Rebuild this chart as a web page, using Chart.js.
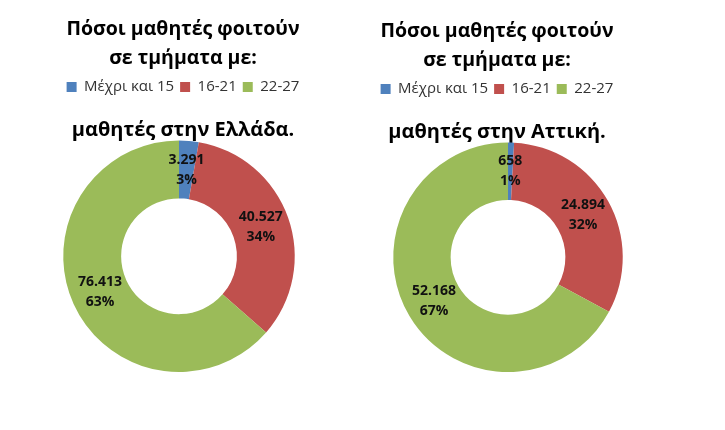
<!DOCTYPE html>
<html><head><meta charset="utf-8">
<script src="https://cdn.jsdelivr.net/npm/chart.js@4/dist/chart.umd.min.js"></script>
<style>
html,body{margin:0;padding:0;background:#fff;}
body{width:725px;height:430px;position:relative;overflow:hidden;}
.box{position:absolute;top:0;height:430px;}
</style></head><body>
<div class="box" style="left:18px;width:330px"><canvas id="c1"></canvas></div>
<div class="box" style="left:348px;width:298px"><canvas id="c2"></canvas></div>
<script>
const categories = ['Μέχρι και 15', '16-21', '22-27'];
const titleLines = ['Πόσοι μαθητές φοιτούν', 'σε τμήματα με:'];
const greeceSubtitle = 'μαθητές στην Ελλάδα.';
const atticaSubtitle = 'μαθητές στην Αττική.';
const greeceValues = [3291, 40527, 76413];
const greecePercents = [3, 34, 63];
const atticaValues = [658, 24894, 52168];
const atticaPercents = [1, 32, 67];
const colors = ['#4F81BD', '#C0504D', '#9BBB59'];

const FONT = '"Open Sans", "Noto Sans", sans-serif';

function fmt(n) {
  return String(n).replace(/\B(?=(\d{3})+(?!\d))/g, '.');
}

const labelPlugin = {
  id: 'sliceLabels',
  afterDatasetsDraw(chart, args, opts) {
    const ctx = chart.ctx;
    const meta = chart.getDatasetMeta(0);
    const ds = chart.data.datasets[0];
    ctx.save();
    ctx.font = 'bold 14px ' + FONT;
    ctx.fillStyle = '#111';
    ctx.textAlign = 'center';
    ctx.textBaseline = 'middle';
    meta.data.forEach((arc, i) => {
      const p = arc.tooltipPosition();
      ctx.fillText(fmt(ds.data[i]), p.x, p.y - 10);
      ctx.fillText(opts.percents[i] + '%', p.x, p.y + 10);
    });
    ctx.restore();
  }
};

const shiftPlugin = {
  id: 'shiftArea',
  afterLayout(chart, args, opts) {
    const s = opts.dx || 0;
    chart.chartArea.left += s;
    chart.chartArea.right += s;
  }
};

function makeChart(id, values, percents, subtitle, dx, dy) {
  new Chart(document.getElementById(id), {
    type: 'doughnut',
    data: {
      labels: categories,
      datasets: [{ data: values, backgroundColor: colors, borderWidth: 0 }]
    },
    options: {
      responsive: true,
      maintainAspectRatio: false,
      animation: false,
      cutout: '50%',
      layout: { padding: { top: dy, bottom: 58 } },
      plugins: {
        title: {
          display: true, text: titleLines, color: '#000',
          font: { family: FONT, size: 19.5, weight: 'bold', lineHeight: 1.5 },
          padding: { top: 15, bottom: 0 }
        },
        legend: {
          position: 'top',
          labels: {
            boxWidth: 10, boxHeight: 10, padding: 6, color: '#333',
            font: { family: FONT, size: 15 }
          }
        },
        subtitle: {
          display: true, text: subtitle, color: '#000', weight: 500,
          font: { family: FONT, size: 20, weight: 'bold', lineHeight: 1.0 },
          padding: { top: 16, bottom: 0 }
        },
        tooltip: { enabled: false },
        sliceLabels: { percents: percents },
        shiftArea: { dx: dx }
      }
    },
    plugins: [labelPlugin, shiftPlugin]
  });
}

makeChart('c1', greeceValues, greecePercents, greeceSubtitle, -4, 0);
makeChart('c2', atticaValues, atticaPercents, atticaSubtitle, 11, 2);
</script>
</body></html>
